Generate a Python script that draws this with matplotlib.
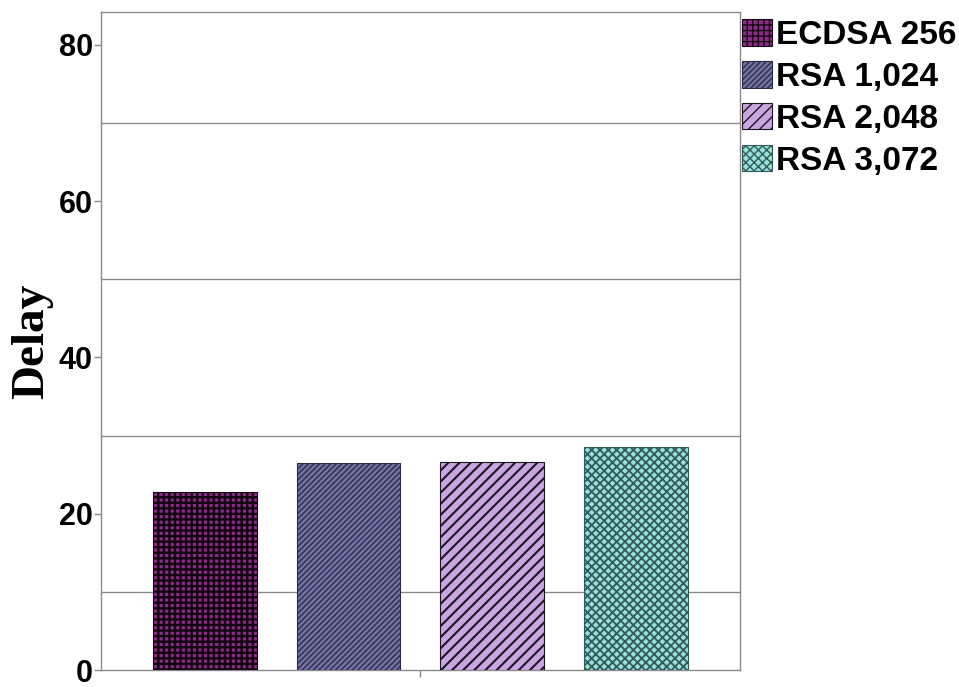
import numpy as np
import matplotlib
matplotlib.use('Agg')
import matplotlib.pyplot as plt

# Delay per signature scheme
schemes = ["ECDSA 256", "RSA 1,024", "RSA 2,048", "RSA 3,072"]
delays = [22.75, 26.45, 26.6, 28.6]

face_colors = ["#8a2c86", "#7272a4", "#c9a6e0", "#98e0da"]
edge_colors = ["#140612", "#2c2c48", "#1e1424", "#335a58"]
hatches = ["+++", "//////", "///", "xxxx"]
hatch_widths = [1.7, 1.0, 1.5, 1.3]

y_ticks = [0, 20, 40, 60, 80]
grid_levels = [10, 30, 50, 70]

plt.rcParams['font.family'] = ['Liberation Sans', 'DejaVu Sans']

fig = plt.figure(figsize=(9.59, 6.87), dpi=100)
ax = fig.add_axes([0.1053, 0.0247, 0.6663, 0.9578])

x = np.arange(len(schemes))
for i, (name, d) in enumerate(zip(schemes, delays)):
    ax.bar(x[i], d, width=0.722, color=face_colors[i], edgecolor=edge_colors[i],
           hatch=hatches[i], hatch_linewidth=hatch_widths[i], linewidth=0.8,
           label=name, zorder=3)

for g in grid_levels:
    ax.axhline(g, color="#8a8a8a", linewidth=1.0, zorder=1)

ax.set_xlim(-0.72, 3.72)
ax.set_ylim(0, 84.2)
ax.set_yticks(y_ticks)
ax.set_yticklabels([str(t) for t in y_ticks], fontsize=22, fontweight='bold')
ax.set_xticks([1.5])
ax.set_xticklabels([""])
ax.tick_params(axis='both', color="#8a8a8a", length=5, width=1.0, direction='out', pad=1)

for s in ax.spines.values():
    s.set_color("#8a8a8a")
    s.set_linewidth(1.0)

ax.set_ylabel("Delay", family=['Liberation Serif', 'DejaVu Serif'], fontsize=34,
              fontweight='bold')
ax.yaxis.set_label_coords(-0.075, 0.5)

fig.legend(loc='upper left', bbox_to_anchor=(0.7735, 0.972), frameon=False,
           prop={'size': 24, 'weight': 'bold'}, handlelength=0.92, handleheight=0.85,
           handletextpad=0.12, labelspacing=0.3, borderaxespad=0, borderpad=0)

fig.savefig("out.png", dpi=100, facecolor='white')
